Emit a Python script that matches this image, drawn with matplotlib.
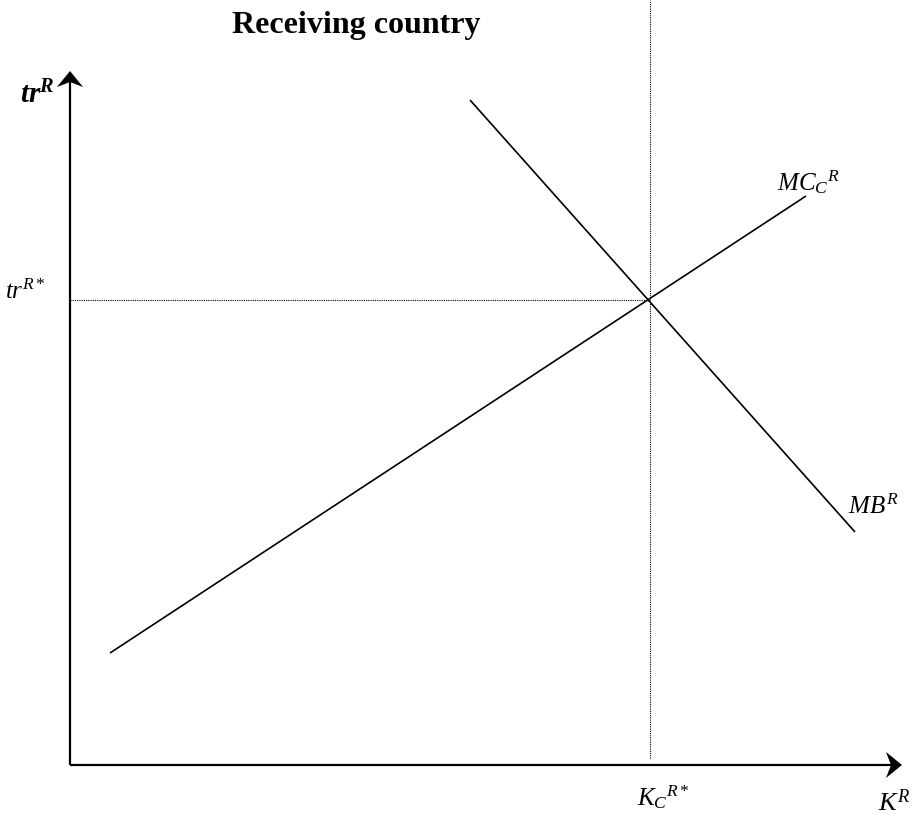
import matplotlib.pyplot as plt
from matplotlib import rcParams
from matplotlib.patches import Polygon

# serif look like the original (Times-style)
rcParams['font.family'] = 'Liberation Serif'
rcParams['mathtext.fontset'] = 'custom'
rcParams['mathtext.rm'] = 'Liberation Serif'
rcParams['mathtext.it'] = 'Liberation Serif:italic'
rcParams['mathtext.bf'] = 'Liberation Serif:bold'
rcParams['mathtext.bfit'] = 'Liberation Serif:bold:italic'

# curve end points (origin at the corner of the axes)
mc_x = [40, 736]
mc_y = [112, 569]
mb_x = [400, 785]
mb_y = [665, 233]

# equilibrium
eq_k = 580
eq_tr = 465

# axis extents
x_end = 832
y_end = 694
v_top = 765
v_bottom = 7

# arrow head size (length, half width, notch depth)
head_len = 16
head_hw = 13
notch = 5

fig = plt.figure(figsize=(9.15, 8.17), dpi=100)
ax = fig.add_axes([0, 0, 1, 1])
ax.set_xlim(-70, 845)
ax.set_ylim(-52, 765)
ax.axis('off')

# axes lines
ax.plot([0, x_end - head_len + notch], [0, 0], color='black', lw=1.6, solid_capstyle='butt')
ax.plot([0, 0], [0, y_end - head_len + notch], color='black', lw=1.6, solid_capstyle='butt')

# barbed arrow heads
ax.add_patch(Polygon([(x_end, 0), (x_end - head_len, head_hw),
                      (x_end - head_len + notch, 0), (x_end - head_len, -head_hw)],
                     closed=True, color='black', lw=0))
ax.add_patch(Polygon([(0, y_end), (head_hw, y_end - head_len),
                      (0, y_end - head_len + notch), (-head_hw, y_end - head_len)],
                     closed=True, color='black', lw=0))

# curves
ax.plot(mc_x, mc_y, color='black', lw=1.2, solid_capstyle='butt')
ax.plot(mb_x, mb_y, color='black', lw=1.2, solid_capstyle='butt')

# dotted guides
ax.plot([0, eq_k], [eq_tr, eq_tr], color='black', lw=0.8, ls=(0, (1, 1)))
ax.plot([eq_k, eq_k], [v_bottom, v_top], color='black', lw=0.8, ls=(0, (1, 1)))

# labels
ax.text(286, 740, 'Receiving country', fontsize=23, fontweight='bold',
        ha='center', va='center')
ax.text(-16, 670, r'$\mathbfit{tr}^{\mathbfit{R}}$', fontsize=21, ha='right', va='center')
ax.text(-24, 473, r'$tr^{R*}$', fontsize=18, ha='right', va='center')
ax.text(707, 583, r'$MC_C{}^{R}$', fontsize=18, ha='left', va='center')
ax.text(778, 258, r'$MB^{R}$', fontsize=18, ha='left', va='center')
ax.text(567, -32, r'$K_C{}^{R*}$', fontsize=18, ha='left', va='center')
ax.text(808, -38, r'$K^{R}$', fontsize=19, ha='left', va='center')

fig.savefig('out.png', dpi=100)
plt.close(fig)
